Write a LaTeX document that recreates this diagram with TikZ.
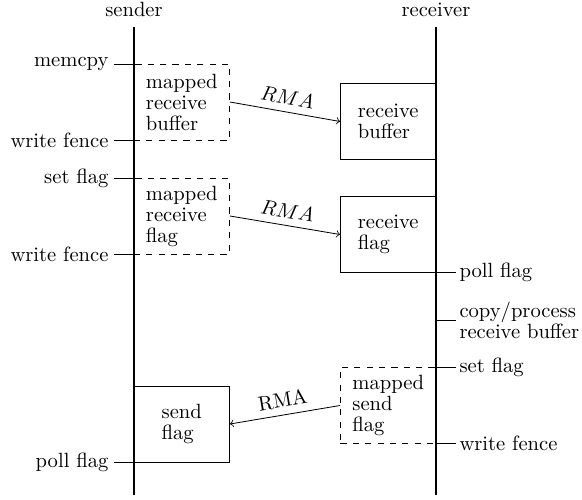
\documentclass[tikz,border=0pt]{standalone}
\begin{document}
\begin{tikzpicture}[x=0.4854pt,y=-0.4854pt,
  lifeline/.style={line width=1pt},
  tickline/.style={line width=0.4pt},
  box/.style={draw, line width=0.4pt, minimum width=46.4pt, minimum height=36.9pt, inner sep=0pt, align=left, font=\fontsize{10}{10.2}\selectfont},
  mbox/.style={box, dashed},
  llbl/.style={anchor=east, inner sep=2.5pt, align=right, font=\fontsize{10}{10.2}\selectfont},
  rlbl/.style={anchor=west, inner sep=1.5pt, align=left, font=\fontsize{10}{10.2}\selectfont},
  rma/.style={->, line width=0.4pt}
]
\useasboundingbox (0,0) rectangle (582,500);
% headers
\node[anchor=base] (sender) at (134,17) {sender};
\node[anchor=base] (receiver) at (436,17) {receiver};
% lifelines
\coordinate (s0) at (134,27); \coordinate (s1) at (134,495);
\coordinate (r0) at (436,27); \coordinate (r1) at (436,495);
% boxes
\node[mbox] (mrb) at (181.75,102) {mapped\\receive\\buffer};
\node[box]  (rb)  at (388.25,121.5) {receive\\buffer};
\node[mbox] (mrf) at (181.75,216) {mapped\\receive\\flag};
\node[box]  (rf)  at (388.25,234.5) {receive\\flag};
\node[mbox] (msf) at (388.25,405.5) {mapped\\send\\flag};
\node[box]  (sf)  at (181.75,424) {send\\flag};
\draw[lifeline] (s0) -- (s1);
\draw[lifeline] (r0) -- (r1);
% left ticks
\coordinate (lt1) at (114,64);  \coordinate (lt1e) at (134,64);
\coordinate (lt2) at (114,140); \coordinate (lt2e) at (134,140);
\coordinate (lt3) at (114,178); \coordinate (lt3e) at (134,178);
\coordinate (lt4) at (114,254); \coordinate (lt4e) at (134,254);
\coordinate (lt5) at (114,462); \coordinate (lt5e) at (134,462);
\draw[tickline] (lt1) -- (lt1e);
\draw[tickline] (lt2) -- (lt2e);
\draw[tickline] (lt3) -- (lt3e);
\draw[tickline] (lt4) -- (lt4e);
\draw[tickline] (lt5) -- (lt5e);
\node[llbl] (l1) at (lt1) {memcpy};
\node[llbl] (l2) at (lt2) {write fence};
\node[llbl] (l3) at (lt3) {set flag};
\node[llbl] (l4) at (lt4) {write fence};
\node[llbl] (l5) at (lt5) {poll flag};
% right ticks
\coordinate (rt1) at (456,272); \coordinate (rt1s) at (436,272);
\coordinate (rt2) at (456,320); \coordinate (rt2s) at (436,320);
\coordinate (rt3) at (456,367); \coordinate (rt3s) at (436,367);
\coordinate (rt4) at (456,443); \coordinate (rt4s) at (436,443);
\draw[tickline] (rt1s) -- (rt1);
\draw[tickline] (rt2s) -- (rt2);
\draw[tickline] (rt3s) -- (rt3);
\draw[tickline] (rt4s) -- (rt4);
\node[rlbl] (r1l) at (rt1) {poll flag};
\node[rlbl] (r2l) at (rt2) {copy/process\\receive buffer};
\node[rlbl] (r3l) at (rt3) {set flag};
\node[rlbl] (r4l) at (rt4) {write fence};
% RMA arrows
\draw[rma] (mrb.east) -- node[midway, above, sloped] {$RMA$} (rb.west);
\draw[rma] (mrf.east) -- node[midway, above, sloped] {$RMA$} (rf.west);
\draw[rma, <-] (sf.east) -- node[midway, above, sloped] {RMA} (msf.west);
\end{tikzpicture}
\end{document}
